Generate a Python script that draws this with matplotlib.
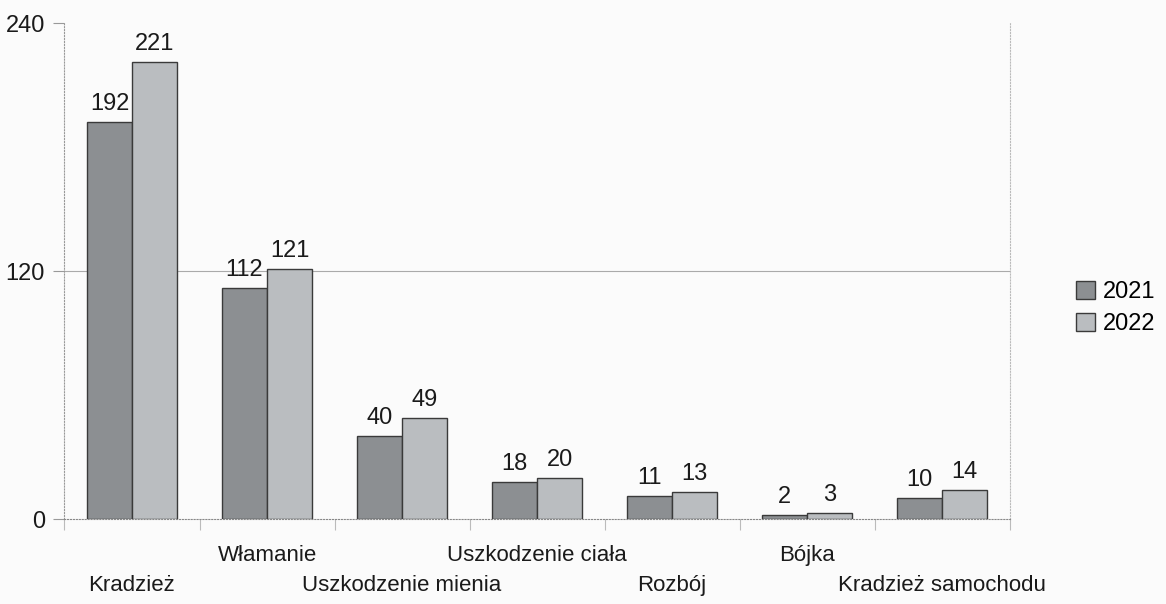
import matplotlib
matplotlib.use('Agg')
import matplotlib.pyplot as plt
import numpy as np

categories = ['Kradzież', 'Włamanie', 'Uszkodzenie mienia', 'Uszkodzenie ciała',
              'Rozbój', 'Bójka', 'Kradzież samochodu']
values_2021 = [192, 112, 40, 18, 11, 2, 10]
values_2022 = [221, 121, 49, 20, 13, 3, 14]
yticks = [0, 120, 240]

plt.rcParams['font.family'] = ['Liberation Sans Narrow', 'Liberation Sans', 'DejaVu Sans']

c2021 = '#8c8f92'
c2022 = '#babdc0'
edge = '#3a3a3a'

fig = plt.figure(figsize=(11.66, 6.04), dpi=100)
fig.patch.set_facecolor('#fbfbfb')
ax = fig.add_axes([0.0553, 0.1407, 0.8107, 0.8212])
ax.set_facecolor('none')

x = np.arange(len(categories))
w = 0.333
b1 = ax.bar(x - w / 2, values_2021, w, color=c2021, edgecolor=edge, linewidth=1, label='2021')
b2 = ax.bar(x + w / 2, values_2022, w, color=c2022, edgecolor=edge, linewidth=1, label='2022')

for bars in (b1, b2):
    for r in bars:
        ax.annotate(str(int(r.get_height())), (r.get_x() + r.get_width() / 2, r.get_height()),
                    xytext=(0, 5), textcoords='offset points', ha='center', va='bottom',
                    fontsize=17, color='#1a1a1a')

ax.set_xlim(-0.5, len(categories) - 0.5)
ax.set_ylim(0, 240)
ax.set_yticks(yticks)
ax.set_yticklabels([str(v) for v in yticks], fontsize=17, color='#1a1a1a')
ax.tick_params(axis='y', length=8, color='#999999', pad=6)
ax.axhline(120, color='#aaaaaa', linewidth=0.8, zorder=0)

# category boundaries as ticks, labels staggered on two lines
ax.set_xticks(np.arange(len(categories) + 1) - 0.5)
ax.set_xticklabels([])
ax.tick_params(axis='x', length=8, color='#bbbbbb')
for i, name in enumerate(categories):
    off = -48 if i % 2 == 0 else -26
    ax.annotate(name, (i, 0), xytext=(0, off), textcoords='offset points',
                ha='center', va='center', fontsize=16, color='#1a1a1a',
                annotation_clip=False)

ax.spines['top'].set_visible(False)
ax.spines['left'].set_linestyle(':')
ax.spines['left'].set_color('#999999')
ax.spines['right'].set_linestyle(':')
ax.spines['right'].set_color('#bbbbbb')
ax.spines['bottom'].set_linestyle(':')
ax.spines['bottom'].set_color('#888888')

fig.legend(handles=[b1, b2], labels=['2021', '2022'], loc='center left',
           bbox_to_anchor=(0.905, 0.49), frameon=False, fontsize=17,
           handlelength=0.8, handleheight=0.8, handletextpad=0.3, labelspacing=0.4)

plt.savefig('out.png')
